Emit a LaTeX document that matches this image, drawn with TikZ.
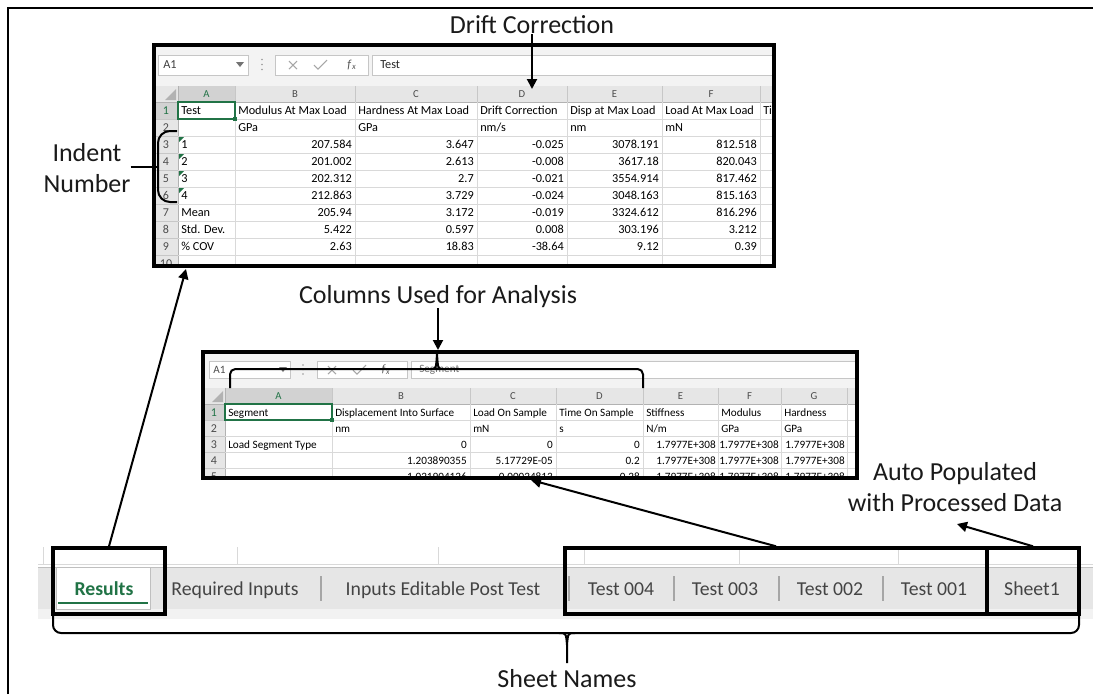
\documentclass[tikz,border=0pt]{standalone}
\usepackage{fontspec}
\setmainfont{Carlito}
\usetikzlibrary{arrows.meta,fit}

\definecolor{xlgreen}{HTML}{217346}
\definecolor{hdrgray}{HTML}{E6E6E6}
\definecolor{hdrsel}{HTML}{D2D2D2}
\definecolor{gridc}{HTML}{D9D9D9}
\definecolor{barbg}{HTML}{F3F3F3}
\definecolor{boxedge}{HTML}{C6C6C6}
\definecolor{tabtext}{HTML}{444444}
\definecolor{labelc}{HTML}{1A1A1A}

\newcommand\lblfont{\fontsize{19.5}{23}\selectfont}
\newcommand\tcellfont{\fontsize{9.2}{11}\selectfont}
\newcommand\bcellfont{\fontsize{8.4}{10}\selectfont}
\newcommand\hdrfont{\fontsize{8}{9}\selectfont}
\newcommand\rowfont{\fontsize{9}{10}\selectfont}
\newcommand\tabfont{\fontsize{14.8}{17}\selectfont}

\begin{document}
\begin{tikzpicture}[x=0.75pt,y=-0.75pt,
  lbl/.style={font=\lblfont, text=labelc, align=center, inner sep=0pt},
  arr/.style={-{Triangle[length=7.5pt,width=7.5pt]}, line width=1.5pt, black},
  hlbox/.style={draw=black, line width=2.6pt, inner sep=0pt},
  sheetframe/.style={draw=black, line width=3pt, inner sep=0pt},
  bracepath/.style={line width=1.5pt, black},
  cl/.style={anchor=base west, inner sep=0pt, text=black},
  cr/.style={anchor=base east, inner sep=0pt, text=black},
  rn/.style={anchor=base, inner sep=0pt, text=black!70, font=\rowfont},
  ch/.style={anchor=base, inner sep=0pt, text=black!70, font=\hdrfont},
  tabname/.style={anchor=base, inner sep=0pt, font=\tabfont, text=tabtext},
  inbox/.style={fill=white, draw=boxedge, line width=0.5pt},
  thin/.style={line width=0.5pt},
]
\fill[white] (0,0) rectangle (1093,694);
\useasboundingbox (0,0) rectangle (1093,694);

% page frame
\draw[line width=1.5pt] (8,694) -- (8,8) -- (1093,8);

% ---------------- results sheet ----------------
\begin{scope}
\clip (154,45) rectangle (774,266);
\fill[barbg] (154,45) rectangle (774,86);
\draw[inbox] (158,55) rectangle (248,75);
\node[anchor=west, inner sep=0pt, font=\tcellfont, text=black!75] (tname) at (163,65) {A1};
\fill[black!55] (236,62) -- (244,62) -- (240,67) -- cycle;
\foreach \yy in {59.5,64.5,69.5} \fill[black!40] (262,\yy) circle (0.7pt);
\draw[inbox] (275,55) rectangle (368,75);
\draw[black!35, line width=0.8pt] (289,61) -- (297,69) (289,69) -- (297,61);
\draw[black!35, line width=0.8pt] (314,65) -- (318,69) -- (327,60);
\node[inner sep=0pt, font=\tcellfont, text=black!65] (tfx) at (352,65) {\textit{f}\kern0.3pt\textsubscript{\textit{x}}};
\draw[inbox] (372,55) rectangle (790,75);
\node[anchor=west, inner sep=0pt, font=\tcellfont, text=black!85] (tform) at (380,65) {Test};

\fill[hdrgray] (154,86) rectangle (774,102);
\fill[hdrgray] (154,102) rectangle (178,266);
\fill[hdrsel] (178,86) rectangle (235,102);
\fill[hdrsel] (154,102) rectangle (178,119);
\fill[black!30] (176,89) -- (176,100) -- (165,100) -- cycle;
\foreach \xx in {178,235,355,477,567,662,760} \draw[black!22, thin] (\xx,86) -- (\xx,102);
\foreach \r in {1,...,9} \draw[black!22, thin] (154,{102+17*\r}) -- (178,{102+17*\r});
\draw[black!30, thin] (154,102) -- (774,102);
\draw[black!30, thin] (178,86) -- (178,266);
\draw[xlgreen, line width=1pt] (178,101.5) -- (235,101.5);
\foreach \r in {1,...,9} \draw[gridc, thin] (178,{102+17*\r}) -- (774,{102+17*\r});
\foreach \xx in {235,355,477,567,662,760} \draw[gridc, thin] (\xx,102) -- (\xx,266);

\node[ch, text=xlgreen] (thA) at (206.5,97.5) {A};
\foreach \l/\cx in {B/295,C/416,D/522,E/614.5,F/711} \node[ch] (th\l) at (\cx,97.5) {\l};
\node[rn, text=xlgreen] (tr1) at (166,114.5) {1};
\foreach \r in {2,...,10} \node[rn] (tr\r) at (166,{97.5+17*\r}) {\r};

\draw[xlgreen, line width=1.5pt] (178,102) rectangle (235,119);
\fill[xlgreen] (233,117) rectangle (237,121);
\foreach \r in {3,...,6} \fill[xlgreen] (179,{103+17*(\r-1)}) -- ++(5,0) -- ++(-5,5) -- cycle;

\begin{scope}[every node/.append style={font=\tcellfont}]
\node[cl] (ta1) at (181,114.5) {Test};
\node[cl] (tb1) at (238,114.5) {Modulus At Max Load};
\node[cl] (tc1) at (358,114.5) {Hardness At Max Load};
\node[cl] (td1) at (480,114.5) {Drift Correction};
\node[cl] (te1) at (570,114.5) {Disp at Max Load};
\node[cl] (tf1) at (665,114.5) {Load At Max Load};
\node[cl] (tg1) at (763,114.5) {Ti};
\node[cl] (tb2) at (238,131.5) {GPa};
\node[cl] (tc2) at (358,131.5) {GPa};
\node[cl] (td2) at (480,131.5) {nm/s};
\node[cl] (te2) at (570,131.5) {nm};
\node[cl] (tf2) at (665,131.5) {mN};
\foreach \r/\a/\b/\c/\d/\e/\f in {
  3/1/207.584/3.647/-0.025/3078.191/812.518,
  4/2/201.002/2.613/-0.008/3617.18/820.043,
  5/3/202.312/2.7/-0.021/3554.914/817.462,
  6/4/212.863/3.729/-0.024/3048.163/815.163,
  7/Mean/205.94/3.172/-0.019/3324.612/816.296,
  8/Std. Dev./5.422/0.597/0.008/303.196/3.212,
  9/\% COV/2.63/18.83/-38.64/9.12/0.39}{
  \pgfmathsetmacro\yb{97.5+17*\r}
  \node[cl] (ta\r) at (181,\yb) {\a};
  \node[cr] (tb\r) at (352,\yb) {\b};
  \node[cr] (tc\r) at (474,\yb) {\c};
  \node[cr] (td\r) at (564,\yb) {\d};
  \node[cr] (te\r) at (659,\yb) {\e};
  \node[cr] (tf\r) at (757,\yb) {\f};
}
\end{scope}
\end{scope}
\node[sheetframe, fit={(154,45) (774,266)}] (topsheet) {};

% ---------------- processed test sheet ----------------
\begin{scope}
\clip (203,352) rectangle (857,478);
\fill[barbg] (203,352) rectangle (857,388);
\draw[inbox] (209,361) rectangle (290,378);
\node[anchor=west, inner sep=0pt, font=\bcellfont, text=black!70] (bname) at (213,369.5) {A1};
\fill[black!55] (279,367) -- (287,367) -- (283,372) -- cycle;
\foreach \yy in {365,369.5,374} \fill[black!40] (303,\yy) circle (0.7pt);
\draw[inbox] (317,361) rectangle (407,378);
\draw[black!35, line width=0.8pt] (328,366) -- (336,374) (328,374) -- (336,366);
\draw[black!35, line width=0.8pt] (353,370) -- (357,374) -- (366,365);
\node[inner sep=0pt, font=\bcellfont, text=black!65] (bfx) at (386,369.5) {\textit{f}\kern0.3pt\textsubscript{\textit{x}}};
\draw[inbox] (411,361) rectangle (870,378);
\node[anchor=west, inner sep=0pt, font=\bcellfont, text=black!55] (bform) at (419,369.5) {Segment};

\fill[hdrgray] (203,388) rectangle (857,404);
\fill[hdrgray] (203,404) rectangle (225,478);
\fill[hdrsel] (225,388) rectangle (332,404);
\fill[hdrsel] (203,404) rectangle (225,420);
\fill[black!30] (223,391) -- (223,402) -- (212,402) -- cycle;
\foreach \xx in {225,332,470,556,643,718,781,847} \draw[black!22, thin] (\xx,388) -- (\xx,404);
\foreach \r in {1,...,4} \draw[black!22, thin] (203,{404+16*\r}) -- (225,{404+16*\r});
\draw[black!30, thin] (203,404) -- (857,404);
\draw[black!30, thin] (225,388) -- (225,478);
\draw[xlgreen, line width=1pt] (225,403.5) -- (332,403.5);
\foreach \r in {1,...,4} \draw[gridc, thin] (225,{404+16*\r}) -- (857,{404+16*\r});
\foreach \xx in {332,470,556,643,718,781,847} \draw[gridc, thin] (\xx,404) -- (\xx,478);

\node[ch, text=xlgreen] (bhA) at (278.5,399) {A};
\foreach \l/\cx in {B/401,C/513,D/599.5,E/680.5,F/749.5,G/814} \node[ch] (bh\l) at (\cx,399) {\l};
\node[rn, text=xlgreen] (br1) at (214,416) {1};
\foreach \r in {2,...,5} \node[rn] (br\r) at (214,{400+16*\r}) {\r};

\draw[xlgreen, line width=1.5pt] (225,404) rectangle (332,420);
\fill[xlgreen] (330,418) rectangle (334,422);

\begin{scope}[every node/.append style={font=\bcellfont}]
\node[cl] (ba1) at (228,416) {Segment};
\node[cl] (bb1) at (335,416) {Displacement Into Surface};
\node[cl] (bc1) at (473,416) {Load On Sample};
\node[cl] (bd1) at (559,416) {Time On Sample};
\node[cl] (be1) at (646,416) {Stiffness};
\node[cl] (bf1) at (721,416) {Modulus};
\node[cl] (bg1) at (784,416) {Hardness};
\node[cl] (bb2) at (335,432) {nm};
\node[cl] (bc2) at (473,432) {mN};
\node[cl] (bd2) at (559,432) {s};
\node[cl] (be2) at (646,432) {N/m};
\node[cl] (bf2) at (721,432) {GPa};
\node[cl] (bg2) at (784,432) {GPa};
\node[cl] (ba3) at (228,448) {Load Segment Type};
\foreach \r/\b/\c/\d in {3/0/0/0, 4/1.203890355/5.17729E-05/0.2, 5/-1.021904126/0.00024813/0.28}{
  \pgfmathsetmacro\yb{400+16*\r}
  \node[cr] (bb\r) at (467,\yb) {\b};
  \node[cr] (bc\r) at (553,\yb) {\c};
  \node[cr] (bd\r) at (640,\yb) {\d};
  \node[cr] (be\r) at (716,\yb) {1.7977E+308};
  \node[cr] (bf\r) at (779,\yb) {1.7977E+308};
  \node[cr] (bg\r) at (845,\yb) {1.7977E+308};
}
\end{scope}
\end{scope}
\node[sheetframe, fit={(203,352) (857,478)}] (botsheet) {};

% ---------------- sheet tab bar ----------------
\foreach \xx in {43,237,438,584,739,898} \draw[gridc, thin] (\xx,547) -- (\xx,564);
\draw[gridc, thin] (38,564) -- (1093,564);
\fill[hdrgray] (38,567) rectangle (1093,609);
\draw[black!25, thin] (38,567) -- (1093,567);
\draw[black!18, thin] (38,609) -- (1093,609);
\fill[black!5] (38,609.3) rectangle (1093,619);
\filldraw[fill=white, draw=black!25, thin] (56,567) rectangle (150,609);
\draw[xlgreen, line width=1.5pt] (58,603) -- (148,603);
\foreach \xx in {321,569,674,779,883} \draw[black!35, line width=0.8pt] (\xx,576) -- (\xx,601);

\node[tabname, font=\tabfont\bfseries, text=xlgreen] (tabres) at (104,595) {Results};
\node[tabname] (tabreq) at (235,595) {Required Inputs};
\node[tabname] (tabpost) at (443,595) {Inputs Editable Post Test};
\node[tabname] (tab4) at (621,595) {Test 004};
\node[tabname] (tab3) at (725,595) {Test 003};
\node[tabname] (tab2) at (830,595) {Test 002};
\node[tabname] (tab1) at (934,595) {Test 001};
\node[tabname] (tabs1) at (1032,595) {Sheet1};

\node[hlbox, fit={(53,548) (165,614)}] (resbox) {};
\node[hlbox, fit={(565,548) (987,614)}] (testbox) {};
\node[hlbox, fit={(987,548) (1079,614)}] (s1box) {};

% ---------------- labels ----------------
\node[lbl] (dc) at (532,25) {Drift Correction};
\node[lbl] (ind) at (87,168) {Indent\\Number};
\node[lbl] (cu) at (438,297) {Columns Used for Analysis};
\node[lbl] (auto) at (955,487) {Auto Populated\\with Processed Data};
\node[lbl] (sn) at (567,679) {Sheet Names};

% ---------------- braces ----------------
\draw[bracepath, rounded corners=9pt] (177,131) -- (158,131) -- (158,202) -- (177,202);
\coordinate (indTip) at (157,167);
\draw[bracepath] (ind.east |- indTip) -- (indTip);

\draw[bracepath, rounded corners=4pt] (230,388) -- (230,369) -- (643,369) -- (643,388);
\draw[bracepath] (431,369) .. controls (436,369) .. (437,354) .. controls (438,369) .. (443,369);

\draw[bracepath, rounded corners=6pt] (53,614) -- (53,633) -- (1079,633) -- (1079,614);
\draw[bracepath] (559,633) .. controls (566,633) .. (567,645) -- (567,663);
\draw[bracepath] (575,633) .. controls (568,633) .. (567,645);

% ---------------- arrows ----------------
\coordinate (dcTip) at (532,89);
\draw[arr] (dc.south) -- (dcTip);
\coordinate (cuTip) at (438,350);
\draw[arr] (cu.south) -- (cuTip);
\coordinate (topTip) at (186,269);
\draw[arr] (resbox.north) -- (topTip);
\coordinate (botTip) at (531,480);
\draw[arr] (testbox.north) -- (botTip);
\coordinate (autoTip) at (957,524);
\draw[arr] (s1box.north) -- (autoTip);
\end{tikzpicture}
\end{document}
